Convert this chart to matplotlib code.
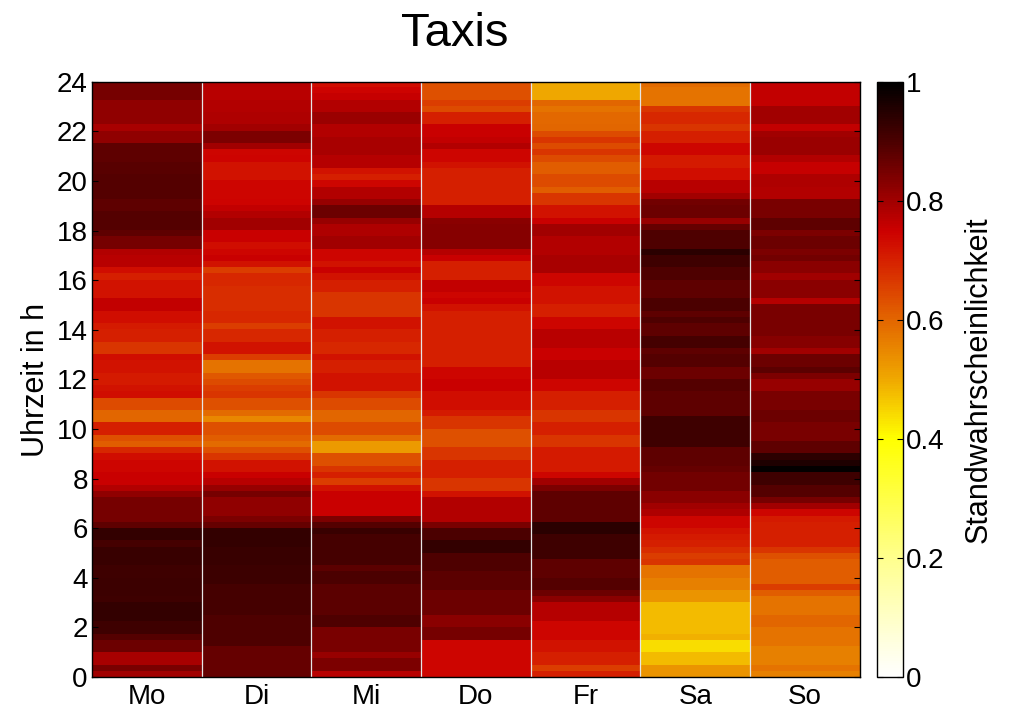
import numpy as np
import matplotlib
matplotlib.use("Agg")
import matplotlib.pyplot as plt
from matplotlib.colors import LinearSegmentedColormap

plt.rcParams['font.family'] = ['Liberation Sans', 'DejaVu Sans']

days = ["Mo", "Di", "Mi", "Do", "Fr", "Sa", "So"]

# probability per 15 min slot, listed from 24:00 down to 0:00 (96 slots)
mo = [0.85, 0.85, 0.85, 0.82, 0.82, 0.82, 0.82, 0.79, 0.82, 0.82, 0.875, 0.875,
      0.875, 0.885, 0.885, 0.89, 0.89, 0.89, 0.89, 0.875, 0.875, 0.89, 0.89, 0.89,
      0.875, 0.85, 0.85, 0.78, 0.77, 0.77, 0.73, 0.70, 0.72, 0.72, 0.72, 0.76,
      0.76, 0.73, 0.73, 0.71, 0.70, 0.70, 0.67, 0.67, 0.73, 0.72, 0.72, 0.71,
      0.71, 0.72, 0.73, 0.64, 0.64, 0.60, 0.60, 0.70, 0.70, 0.63, 0.61, 0.69,
      0.73, 0.74, 0.74, 0.75, 0.75, 0.78, 0.82, 0.85, 0.85, 0.85, 0.85, 0.875,
      0.93, 0.93, 0.91, 0.925, 0.925, 0.925, 0.915, 0.915, 0.92, 0.92, 0.92, 0.915,
      0.93, 0.93, 0.93, 0.915, 0.915, 0.89, 0.86, 0.86, 0.79, 0.79, 0.845, 0.80]
di = [0.775, 0.77, 0.77, 0.78, 0.78, 0.785, 0.785, 0.80, 0.84, 0.84, 0.80, 0.74,
      0.745, 0.72, 0.72, 0.72, 0.74, 0.74, 0.74, 0.745, 0.76, 0.78, 0.80, 0.80,
      0.75, 0.75, 0.73, 0.74, 0.75, 0.72, 0.66, 0.69, 0.69, 0.68, 0.68, 0.68,
      0.68, 0.69, 0.69, 0.66, 0.69, 0.69, 0.72, 0.72, 0.66, 0.58, 0.58, 0.62,
      0.64, 0.66, 0.67, 0.63, 0.63, 0.59, 0.55, 0.63, 0.63, 0.61, 0.59, 0.63,
      0.67, 0.72, 0.72, 0.75, 0.77, 0.81, 0.85, 0.82, 0.82, 0.82, 0.84, 0.87,
      0.93, 0.93, 0.93, 0.925, 0.925, 0.925, 0.92, 0.92, 0.92, 0.91, 0.91, 0.91,
      0.91, 0.91, 0.895, 0.895, 0.895, 0.895, 0.895, 0.87, 0.87, 0.87, 0.87, 0.87]
mi = [0.73, 0.745, 0.755, 0.78, 0.78, 0.805, 0.805, 0.78, 0.78, 0.79, 0.79, 0.79,
      0.775, 0.775, 0.72, 0.70, 0.74, 0.78, 0.78, 0.81, 0.86, 0.86, 0.81, 0.785,
      0.785, 0.80, 0.80, 0.74, 0.74, 0.72, 0.75, 0.72, 0.70, 0.70, 0.67, 0.67,
      0.67, 0.67, 0.72, 0.72, 0.70, 0.70, 0.69, 0.69, 0.72, 0.70, 0.70, 0.72,
      0.72, 0.72, 0.67, 0.64, 0.64, 0.60, 0.60, 0.64, 0.64, 0.59, 0.52, 0.52,
      0.63, 0.63, 0.67, 0.70, 0.66, 0.72, 0.75, 0.75, 0.75, 0.75, 0.84, 0.89,
      0.925, 0.91, 0.91, 0.91, 0.91, 0.91, 0.88, 0.90, 0.90, 0.88, 0.88, 0.88,
      0.88, 0.88, 0.895, 0.895, 0.845, 0.845, 0.845, 0.845, 0.81, 0.84, 0.84, 0.77]
do = [0.63, 0.63, 0.63, 0.66, 0.64, 0.70, 0.70, 0.75, 0.75, 0.76, 0.78, 0.74,
      0.74, 0.72, 0.70, 0.70, 0.70, 0.70, 0.70, 0.70, 0.775, 0.775, 0.825, 0.83,
      0.83, 0.83, 0.83, 0.775, 0.75, 0.70, 0.70, 0.70, 0.76, 0.76, 0.74, 0.75,
      0.72, 0.70, 0.70, 0.70, 0.70, 0.70, 0.70, 0.70, 0.70, 0.70, 0.74, 0.74,
      0.75, 0.75, 0.73, 0.73, 0.73, 0.71, 0.67, 0.67, 0.63, 0.63, 0.63, 0.67,
      0.67, 0.70, 0.70, 0.70, 0.67, 0.67, 0.72, 0.78, 0.78, 0.78, 0.78, 0.845,
      0.90, 0.90, 0.93, 0.93, 0.895, 0.895, 0.895, 0.88, 0.88, 0.88, 0.86, 0.86,
      0.86, 0.86, 0.825, 0.825, 0.85, 0.85, 0.74, 0.74, 0.74, 0.74, 0.74, 0.74]
fr = [0.50, 0.50, 0.50, 0.60, 0.58, 0.595, 0.595, 0.60, 0.64, 0.67, 0.64, 0.67,
      0.64, 0.61, 0.61, 0.64, 0.64, 0.61, 0.67, 0.67, 0.72, 0.72, 0.75, 0.80,
      0.80, 0.78, 0.78, 0.78, 0.79, 0.79, 0.79, 0.74, 0.74, 0.72, 0.72, 0.72,
      0.70, 0.70, 0.74, 0.74, 0.77, 0.77, 0.77, 0.75, 0.75, 0.77, 0.77, 0.77,
      0.74, 0.74, 0.70, 0.70, 0.70, 0.67, 0.67, 0.70, 0.70, 0.67, 0.67, 0.71,
      0.71, 0.71, 0.71, 0.74, 0.80, 0.84, 0.875, 0.875, 0.875, 0.875, 0.875, 0.945,
      0.945, 0.915, 0.915, 0.915, 0.915, 0.875, 0.875, 0.875, 0.89, 0.89, 0.86, 0.825,
      0.775, 0.775, 0.775, 0.74, 0.74, 0.74, 0.72, 0.72, 0.70, 0.70, 0.66, 0.70]
sa = [0.59, 0.58, 0.58, 0.58, 0.67, 0.69, 0.69, 0.67, 0.70, 0.70, 0.74, 0.74,
      0.71, 0.71, 0.73, 0.73, 0.77, 0.77, 0.80, 0.855, 0.86, 0.86, 0.81, 0.87,
      0.895, 0.895, 0.895, 0.945, 0.915, 0.915, 0.895, 0.895, 0.875, 0.875, 0.875, 0.90,
      0.90, 0.875, 0.895, 0.875, 0.875, 0.91, 0.91, 0.875, 0.89, 0.89, 0.86, 0.86,
      0.89, 0.89, 0.875, 0.875, 0.875, 0.875, 0.915, 0.915, 0.915, 0.915, 0.915, 0.875,
      0.875, 0.875, 0.87, 0.855, 0.855, 0.855, 0.825, 0.825, 0.80, 0.785, 0.74, 0.74,
      0.72, 0.71, 0.70, 0.68, 0.66, 0.67, 0.58, 0.58, 0.56, 0.56, 0.53, 0.53,
      0.48, 0.48, 0.48, 0.48, 0.48, 0.49, 0.44, 0.44, 0.48, 0.48, 0.53, 0.53]
so = [0.76, 0.76, 0.76, 0.76, 0.80, 0.80, 0.80, 0.76, 0.80, 0.805, 0.805, 0.805,
      0.78, 0.755, 0.755, 0.785, 0.785, 0.78, 0.78, 0.845, 0.845, 0.845, 0.875, 0.875,
      0.84, 0.86, 0.86, 0.84, 0.855, 0.825, 0.825, 0.80, 0.825, 0.825, 0.825, 0.775,
      0.845, 0.845, 0.845, 0.845, 0.845, 0.83, 0.83, 0.80, 0.86, 0.86, 0.88, 0.84,
      0.81, 0.81, 0.845, 0.845, 0.845, 0.86, 0.86, 0.845, 0.845, 0.845, 0.875, 0.875,
      0.94, 0.96, 0.995, 0.915, 0.915, 0.89, 0.89, 0.85, 0.80, 0.74, 0.71, 0.70,
      0.70, 0.70, 0.70, 0.67, 0.63, 0.61, 0.61, 0.61, 0.61, 0.66, 0.61, 0.58,
      0.58, 0.58, 0.60, 0.60, 0.58, 0.58, 0.58, 0.56, 0.56, 0.56, 0.58, 0.56]

grid = np.column_stack([mo, di, mi, do, fr, sa, so])

cmap = LinearSegmentedColormap.from_list("standw", [
    (0.0, (1.0, 1.0, 1.0)),
    (0.2, (1.0, 1.0, 0.55)),
    (0.4, (1.0, 1.0, 0.0)),
    (0.5, (0.94, 0.66, 0.0)),
    (0.6, (0.89, 0.40, 0.0)),
    (0.7, (0.84, 0.13, 0.0)),
    (0.75, (0.80, 0.0, 0.0)),
    (0.9, (0.30, 0.0, 0.0)),
    (1.0, (0.0, 0.0, 0.0)),
])

fig = plt.figure(figsize=(10.13, 7.11), dpi=100)
ax = fig.add_axes([0.0908, 0.0478, 0.758, 0.837])
cax = fig.add_axes([0.8657, 0.0478, 0.0257, 0.837])

im = ax.imshow(grid, cmap=cmap, vmin=0, vmax=1, aspect="auto",
               origin="upper", extent=(0, 7, 0, 24), interpolation="nearest")
for x in range(1, 7):
    ax.axvline(x, color="#e6e6e6", lw=0.9)

ax.set_xlim(0, 7)
ax.set_ylim(0, 24)
ax.set_xticks(np.arange(7) + 0.5)
ax.set_xticklabels(days)
ax.set_yticks(range(0, 25, 2))
ax.tick_params(axis="x", length=0, labelsize=20, pad=5)
ax.tick_params(axis="y", direction="in", length=4, labelsize=20, right=True, pad=3)
ax.set_ylabel("Uhrzeit in h", fontsize=22, labelpad=4)
ax.set_title("Taxis", fontsize=34, pad=26, x=0.473)
for s in ax.spines.values():
    s.set_linewidth(1.0)

cb = fig.colorbar(im, cax=cax, ticks=[0, 0.2, 0.4, 0.6, 0.8, 1])
cb.ax.set_yticklabels(["0", "0.2", "0.4", "0.6", "0.8", "1"])
cb.ax.tick_params(direction="in", length=4, labelsize=20, pad=2, left=True)
cb.outline.set_linewidth(1.0)
cb.set_label("Standwahrscheinlichkeit", fontsize=22, labelpad=14)

fig.savefig("out.png", dpi=100)
